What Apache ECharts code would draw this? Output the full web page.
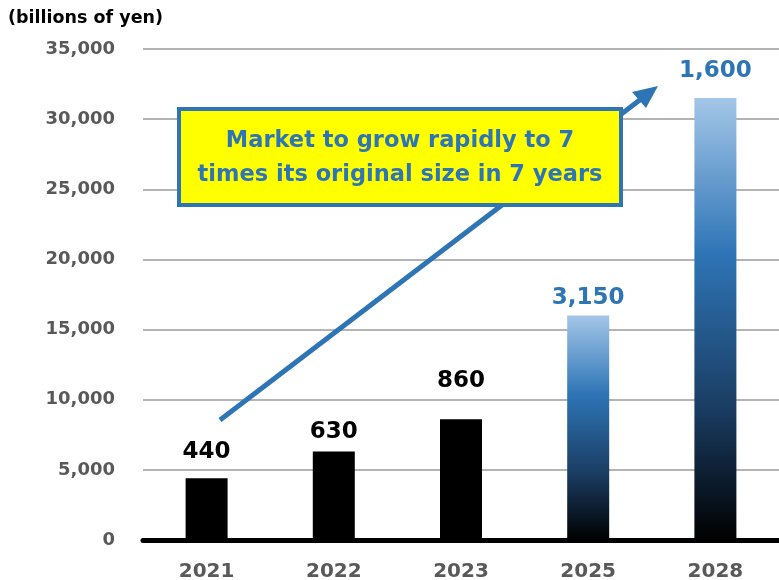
<!DOCTYPE html>
<html>
<head>
<meta charset="utf-8">
<script src="https://cdn.jsdelivr.net/npm/echarts@6/dist/echarts.min.js"></script>
<style>html,body{margin:0;padding:0;background:#fff}#c{width:779px;height:580px}</style>
</head>
<body>
<div id="c"></div>
<script>
// ---- data ----
const categories = ['2021', '2022', '2023', '2025', '2028'];
const values = [4400, 6300, 8600, 16000, 31500];
const valueLabels = ['440', '630', '860', '3,150', '1,600'];
const unitLabel = '(billions of yen)';
const calloutText = 'Market to grow rapidly to 7\ntimes its original size in 7 years';

// ---- styling ----
const FONT = '"DejaVu Sans", Verdana, sans-serif';
const BLUE = '#2e75b6';
const labelGap = [15, 8, 27, 6, 16];
const projected = [false, false, false, true, true];

const gradient = new echarts.graphic.LinearGradient(0, 0, 0, 1, [
  { offset: 0, color: '#a4c6e8' },
  { offset: 0.35, color: '#2e75b6' },
  { offset: 0.7, color: '#1a3d63' },
  { offset: 1, color: '#000000' }
]);

const barData = values.map((v, i) => ({
  value: v,
  itemStyle: { color: projected[i] ? gradient : '#000000' },
  label: {
    show: true,
    position: 'top',
    distance: labelGap[i],
    formatter: valueLabels[i],
    color: projected[i] ? BLUE : '#000000',
    fontSize: 23,
    fontWeight: 'bold',
    fontFamily: FONT
  }
}));

const chart = echarts.init(document.getElementById('c'));
chart.setOption({
  animation: false,
  backgroundColor: '#ffffff',
  grid: { left: 143, right: 0, top: 49, bottom: 40, containLabel: false, outerBoundsMode: 'none' },
  xAxis: {
    type: 'category',
    data: categories,
    axisLine: { show: true, lineStyle: { color: '#000', width: 5 } },
    axisTick: { show: false },
    axisLabel: { color: '#595959', fontSize: 20, fontWeight: 'bold', fontFamily: FONT, margin: 22 }
  },
  yAxis: {
    type: 'value',
    min: 0, max: 35000, interval: 5000,
    axisLine: { show: false },
    axisTick: { show: false },
    splitLine: { lineStyle: { color: '#b4b4b4', width: 2 } },
    axisLabel: {
      color: '#595959', fontSize: 18, fontWeight: 'bold', fontFamily: FONT, margin: 28,
      formatter: v => v.toLocaleString('en-US')
    }
  },
  series: [{
    type: 'bar',
    data: barData,
    barWidth: 42,
    z: 2
  }],
  graphic: [
    {
      type: 'text', left: 8, top: 9, z: 10,
      style: { text: unitLabel, fill: '#000', font: 'bold 17.5px ' + FONT }
    },
    {
      type: 'line', z: 20,
      shape: { x1: 220, y1: 420, x2: 645, y2: 96 },
      style: { stroke: BLUE, lineWidth: 5 }
    },
    {
      type: 'polygon', z: 20,
      shape: { points: [[658, 86], [632, 92], [646, 108]] },
      style: { fill: BLUE }
    },
    {
      type: 'rect', z: 30,
      shape: { x: 179, y: 109, width: 442, height: 96 },
      style: { fill: '#ffff00', stroke: BLUE, lineWidth: 4 }
    },
    {
      type: 'text', z: 31,
      x: 400, y: 158,
      style: {
        text: calloutText, fill: BLUE, font: 'bold 22.5px ' + FONT,
        align: 'center', verticalAlign: 'middle', lineHeight: 34
      }
    }
  ]
});
</script>
</body>
</html>
